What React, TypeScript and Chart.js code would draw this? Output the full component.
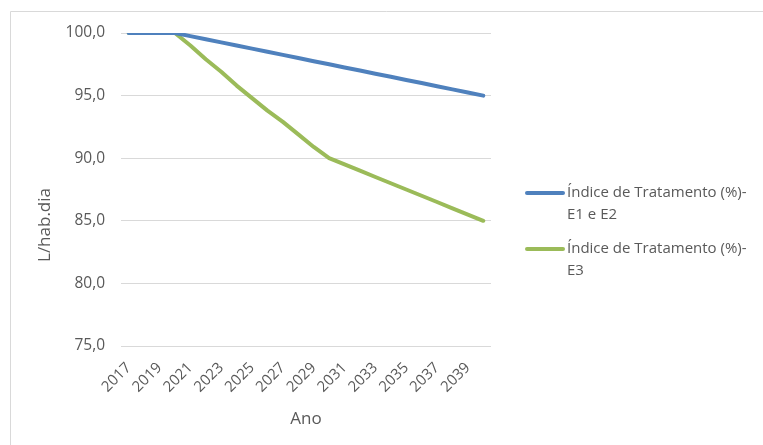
import { useEffect, useRef } from "react";
import { Chart, registerables } from "chart.js";

Chart.register(...registerables);

const years = [
  "2017", "2018", "2019", "2020", "2021", "2022", "2023", "2024",
  "2025", "2026", "2027", "2028", "2029", "2030", "2031", "2032",
  "2033", "2034", "2035", "2036", "2037", "2038", "2039", "2040",
];

const indiceE1E2 = [
  100, 100, 100, 100, 99.75, 99.5, 99.25, 99,
  98.75, 98.5, 98.25, 98, 97.75, 97.5, 97.25, 97,
  96.75, 96.5, 96.25, 96, 95.75, 95.5, 95.25, 95,
];

const indiceE3 = [
  100, 100, 100, 100, 99.0, 97.9, 96.9, 95.8,
  94.8, 93.8, 92.9, 91.9, 90.9, 90.0, 89.5, 89.0,
  88.5, 88.0, 87.5, 87.0, 86.5, 86.0, 85.5, 85.0,
];

const seriesNames = ["Índice de Tratamento (%)- E1 e E2", "Índice de Tratamento (%)- E3"];
const legendLines = [
  ["Índice de Tratamento (%)-", "E1 e E2"],
  ["Índice de Tratamento (%)-", "E3"],
];
const seriesColors = ["#4F81BD", "#9BBB59"];

const yTitle = "L/hab.dia";
const xTitle = "Ano";
const yMin = 75;
const yMax = 100;
const yStep = 5;

const FONT = '"Open Sans", "DejaVu Sans", sans-serif';
const TEXT = "#595959";
const GRID = "#D9D9D9";

const decorPlugin = {
  id: "decor",
  afterDraw(chart: any) {
    const ctx = chart.ctx as CanvasRenderingContext2D;
    ctx.save();
    // chart area border
    ctx.strokeStyle = GRID;
    ctx.lineWidth = 1;
    ctx.beginPath();
    ctx.moveTo(10.5, 445);
    ctx.lineTo(10.5, 11.5);
    ctx.lineTo(763, 11.5);
    ctx.stroke();
    // y axis title
    ctx.save();
    ctx.translate(45, 225);
    ctx.rotate(-Math.PI / 2);
    ctx.fillStyle = TEXT;
    ctx.font = `17px ${FONT}`;
    ctx.textAlign = "center";
    ctx.textBaseline = "middle";
    ctx.fillText(yTitle, 0, 0);
    ctx.restore();
    // legend
    chart.data.datasets.forEach((ds: any, i: number) => {
      const y = 193 + i * 56;
      ctx.strokeStyle = ds.borderColor;
      ctx.lineWidth = 4;
      ctx.lineCap = "round";
      ctx.beginPath();
      ctx.moveTo(527, y);
      ctx.lineTo(563, y);
      ctx.stroke();
      ctx.fillStyle = TEXT;
      ctx.font = `15px ${FONT}`;
      ctx.textBaseline = "middle";
      ctx.textAlign = "left";
      legendLines[i].forEach((t, j) => ctx.fillText(t, 567, y + j * 22));
    });
    ctx.restore();
  },
};

export default function App() {
  const ref = useRef<HTMLCanvasElement | null>(null);

  useEffect(() => {
    if (!ref.current) return;
    const chart = new Chart(ref.current, {
      type: "line",
      data: {
        labels: years,
        datasets: [indiceE1E2, indiceE3].map((d, i) => ({
          label: seriesNames[i],
          data: d,
          borderColor: seriesColors[i],
          backgroundColor: seriesColors[i],
          borderWidth: 4,
          borderCapStyle: "round" as const,
          borderJoinStyle: "round" as const,
          pointRadius: 0,
          tension: 0,
        })),
      },
      options: {
        animation: false,
        responsive: true,
        maintainAspectRatio: false,
        layout: { padding: { left: 0, top: 33, right: 272, bottom: 0 } },
        plugins: {
          legend: { display: false },
          tooltip: { enabled: false },
        },
        scales: {
          x: {
            type: "category",
            offset: true,
            grid: { display: false },
            border: { display: false },
            ticks: {
              autoSkip: false,
              maxRotation: 45,
              minRotation: 45,
              padding: 5,
              color: TEXT,
              font: { family: FONT, size: 15 },
              callback: (_v: any, i: number) => (i % 2 === 0 ? years[i] : ""),
            },
            title: {
              display: true,
              text: xTitle,
              color: TEXT,
              font: { family: FONT, size: 17 },
              padding: { top: 0, bottom: 16 },
            },
            afterFit: (s: any) => {
              s.height = 99;
            },
          },
          y: {
            min: yMin,
            max: yMax,
            ticks: {
              stepSize: yStep,
              padding: 16,
              color: TEXT,
              font: { family: FONT, size: 15.5 },
              callback: (v: any) => Number(v).toFixed(1).replace(".", ","),
            },
            grid: { color: GRID, lineWidth: 1, drawTicks: false },
            border: { display: false },
            afterFit: (s: any) => {
              s.width = 121;
            },
          },
        },
      },
      plugins: [decorPlugin],
    });
    return () => chart.destroy();
  }, []);

  return (
    <div style={{ position: "absolute", left: 0, top: 0, width: 763, height: 445, background: "#fff" }}>
      <canvas ref={ref} />
    </div>
  );
}
